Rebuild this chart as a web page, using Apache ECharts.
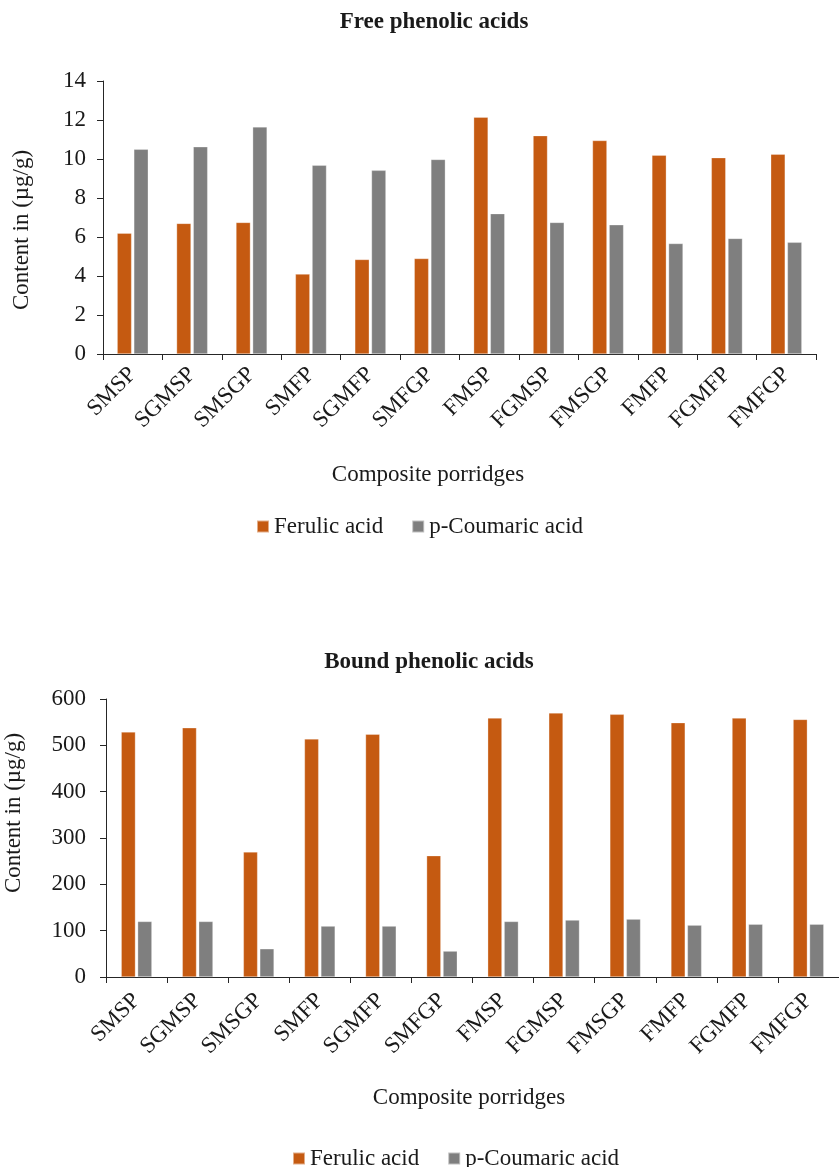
<!DOCTYPE html>
<html>
<head>
<meta charset="utf-8">
<title>Phenolic acids in composite porridges</title>
<script src="https://cdn.jsdelivr.net/npm/echarts@6/dist/echarts.min.js"></script>
<style>
  html, body { margin: 0; padding: 0; background: #fff; }
  #chart { width: 839px; height: 1167px; }
</style>
</head>
<body>
<div id="chart"></div>
<script>
// Porridge samples (x categories)
const categories = ['SMSP', 'SGMSP', 'SMSGP', 'SMFP', 'SGMFP', 'SMFGP',
                    'FMSP', 'FGMSP', 'FMSGP', 'FMFP', 'FGMFP', 'FMFGP'];

// Free phenolic acids, µg/g
const freeFerulic   = [6.2, 6.7, 6.75, 4.1, 4.85, 4.9, 12.15, 11.2, 10.95, 10.2, 10.07, 10.25];
const freeCoumaric  = [10.5, 10.63, 11.65, 9.68, 9.42, 9.98, 7.2, 6.75, 6.63, 5.67, 5.93, 5.73];

// Bound phenolic acids, µg/g
const boundFerulic  = [529, 538, 270, 514, 524, 262, 559, 570, 567, 549, 559, 556];
const boundCoumaric = [120, 120, 61, 110, 110, 56, 120, 123, 125, 112, 114, 114];

const seriesNames = ['Ferulic acid', 'p-Coumaric acid'];
const colors = ['#C55A11', '#7F7F7F'];

const FONT = '"Liberation Serif", "Times New Roman", serif';
const FS = 23;
const axisColor = '#262626';
const textColor = '#1a1a1a';

function catAxis(gridIndex, margin) {
  return {
    type: 'category',
    gridIndex: gridIndex,
    data: categories,
    axisLine: { lineStyle: { color: axisColor, width: 1 } },
    axisTick: { show: true, length: 6, lineStyle: { color: axisColor } },
    axisLabel: { rotate: 45, margin: margin, fontFamily: FONT, fontSize: FS, color: textColor, interval: 0 }
  };
}

function valAxis(gridIndex, max, interval, margin) {
  return {
    type: 'value',
    gridIndex: gridIndex,
    min: 0, max: max, interval: interval,
    splitLine: { show: false },
    axisLine: { show: true, lineStyle: { color: axisColor, width: 1 } },
    axisTick: { show: true, length: 6, lineStyle: { color: axisColor } },
    axisLabel: { margin: margin, fontFamily: FONT, fontSize: FS, color: textColor }
  };
}

function barSeries(name, data, idx, color, width) {
  return {
    name: name,
    type: 'bar',
    xAxisIndex: idx, yAxisIndex: idx,
    data: data,
    barWidth: width,
    barGap: '15%',
    itemStyle: { color: color, borderColor: 'rgba(255,255,255,0.5)', borderWidth: 0.6 }
  };
}

function legend(left, top) {
  return {
    left: left, top: top,
    data: seriesNames,
    icon: 'rect', itemWidth: 12, itemHeight: 12, itemGap: 28,
    textStyle: { fontFamily: FONT, fontSize: FS, color: textColor }
  };
}

function label(text, x, y, rotate, bold) {
  return {
    type: 'text', x: x, y: y, rotation: rotate ? Math.PI / 2 : 0,
    style: {
      text: text, fontFamily: FONT, fontSize: FS, fontWeight: bold ? 'bold' : 'normal',
      fill: textColor, align: 'center', verticalAlign: 'middle'
    }
  };
}

const chart = echarts.init(document.getElementById('chart'), null, { renderer: 'canvas' });

chart.setOption({
  backgroundColor: '#fff',
  animation: false,
  grid: [
    { left: 103, top: 81, width: 713, height: 273 },
    { left: 106, top: 699, width: 736, height: 278 }
  ],
  xAxis: [catAxis(0, 17), catAxis(1, 20)],
  yAxis: [valAxis(0, 14, 2, 17), valAxis(1, 600, 100, 20)],
  legend: [legend(251, 510), legend(287, 1142)],
  graphic: [
    label('Free phenolic acids', 434, 22, false, true),
    label('Bound phenolic acids', 429, 662, false, true),
    label('Content in (µg/g)', 22, 230, true, false),
    label('Content in (µg/g)', 14, 813, true, false),
    label('Composite porridges', 428, 475, false, false),
    label('Composite porridges', 469, 1098, false, false)
  ],
  series: [
    barSeries(seriesNames[0], freeFerulic, 0, colors[0], 14.5),
    barSeries(seriesNames[1], freeCoumaric, 0, colors[1], 14.5),
    barSeries(seriesNames[0], boundFerulic, 1, colors[0], 14.3),
    barSeries(seriesNames[1], boundCoumaric, 1, colors[1], 14.3)
  ]
});
</script>
</body>
</html>
